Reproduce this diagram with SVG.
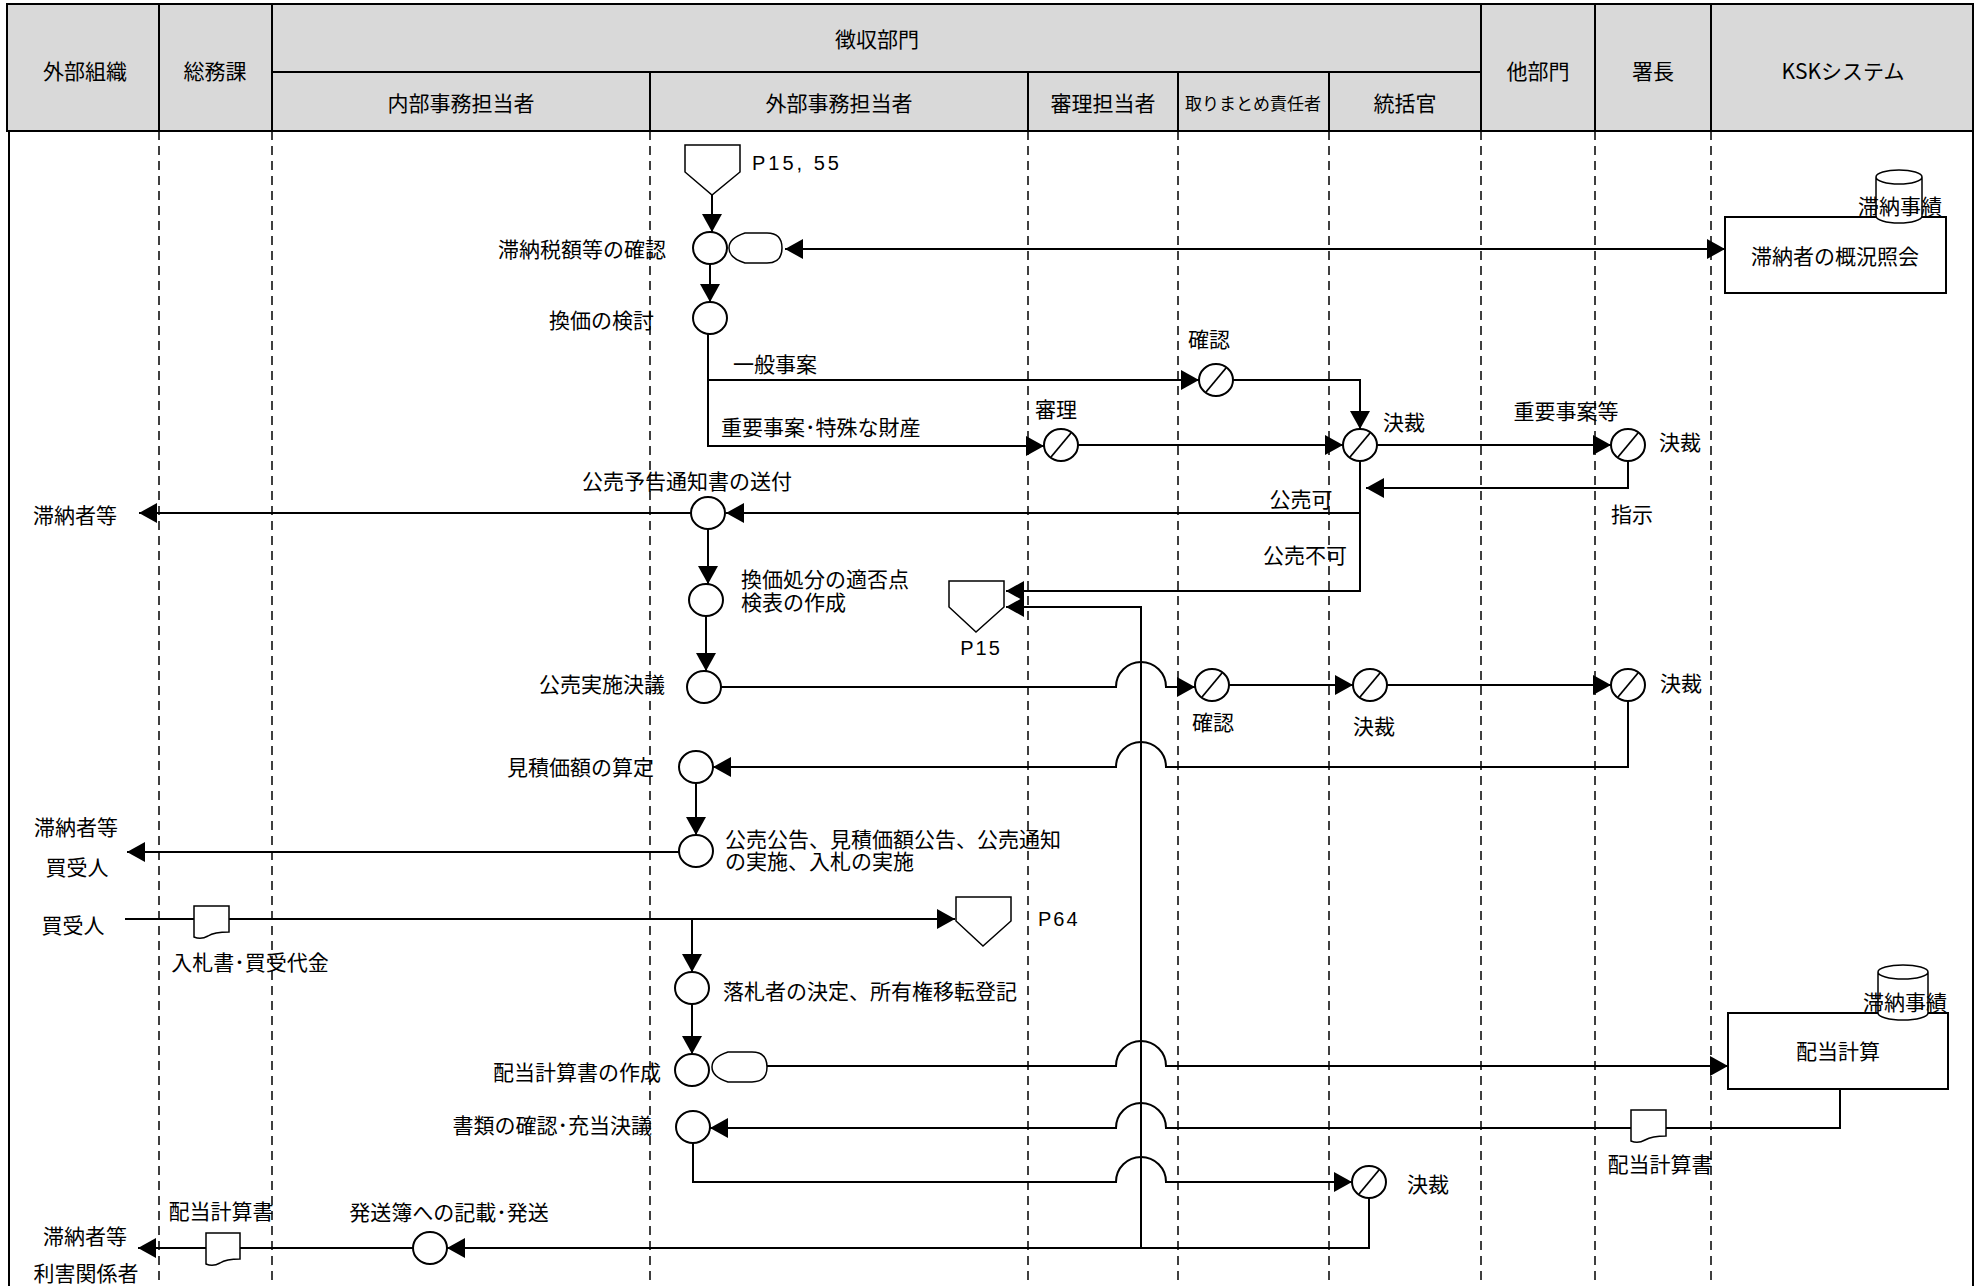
<svg xmlns="http://www.w3.org/2000/svg" width="1982" height="1286" viewBox="0 0 1982 1286">
<style>
.hd{fill:#d9d9d9;stroke:#000;stroke-width:2}
.hl{stroke:#000;stroke-width:2;fill:none}
.lane{stroke:#000;stroke-width:1.5;stroke-dasharray:9 6;fill:none}
.ln{stroke:#000;stroke-width:2;fill:none}
.nd{fill:#fff;stroke:#000;stroke-width:2}
.nt{fill:#fff;stroke:#000;stroke-width:1.5}
.sl{stroke:#000;stroke-width:1.8}
.t{font-family:"Noto Sans CJK JP","Noto Sans CJK SC",sans-serif;font-size:21px;fill:#000}
.s{font-size:17px}
.e{text-anchor:end}
.m{text-anchor:middle}
.p{font-family:"Liberation Sans",Arial,sans-serif;font-size:20px;letter-spacing:2px;fill:#000}
</style>
<defs>
<marker id="ah" markerUnits="userSpaceOnUse" markerWidth="18" markerHeight="20" refX="18" refY="10" orient="auto-start-reverse" viewBox="0 0 18 20">
<path d="M0,0 L18,10 L0,20 Z" fill="#000"/>
</marker>
</defs>
<rect width="1982" height="1286" fill="#fff"/>

<g id="header">
<rect class="hd" x="7" y="4" width="1966" height="127"/>
<line class="hl" x1="159" y1="4" x2="159" y2="131"/>
<line class="hl" x1="272" y1="4" x2="272" y2="131"/>
<line class="hl" x1="1481" y1="4" x2="1481" y2="131"/>
<line class="hl" x1="1595" y1="4" x2="1595" y2="131"/>
<line class="hl" x1="1711" y1="4" x2="1711" y2="131"/>
<line class="hl" x1="272" y1="72" x2="1481" y2="72"/>
<line class="hl" x1="650" y1="72" x2="650" y2="131"/>
<line class="hl" x1="1028" y1="72" x2="1028" y2="131"/>
<line class="hl" x1="1178" y1="72" x2="1178" y2="131"/>
<line class="hl" x1="1329" y1="72" x2="1329" y2="131"/>
<text class="t m" x="85" y="79">外部組織</text>
<text class="t m" x="215" y="79">総務課</text>
<text class="t m" x="877" y="47">徴収部門</text>
<text class="t m" x="461" y="111">内部事務担当者</text>
<text class="t m" x="839" y="111">外部事務担当者</text>
<text class="t m" x="1103" y="111">審理担当者</text>
<text class="t s m" x="1253" y="110">取りまとめ責任者</text>
<text class="t m" x="1405" y="111">統括官</text>
<text class="t m" x="1538" y="79">他部門</text>
<text class="t m" x="1653" y="79">署長</text>
<text class="t m" x="1843" y="79">KSKシステム</text>
</g>

<g id="lanes">
<line class="hl" x1="9" y1="131" x2="9" y2="1286"/>
<line class="hl" x1="1973" y1="131" x2="1973" y2="1286"/>
<line class="lane" x1="159" y1="131" x2="159" y2="1286"/>
<line class="lane" x1="272" y1="131" x2="272" y2="1286"/>
<line class="lane" x1="650" y1="131" x2="650" y2="1286"/>
<line class="lane" x1="1028" y1="131" x2="1028" y2="1286"/>
<line class="lane" x1="1178" y1="131" x2="1178" y2="1286"/>
<line class="lane" x1="1329" y1="131" x2="1329" y2="1286"/>
<line class="lane" x1="1481" y1="131" x2="1481" y2="1286"/>
<line class="lane" x1="1595" y1="131" x2="1595" y2="1286"/>
<line class="lane" x1="1711" y1="131" x2="1711" y2="1286"/>
</g>

<g id="connectors">
<path class="ln" d="M712,195 V232" marker-end="url(#ah)"/>
<path class="ln" d="M710,264 V302" marker-end="url(#ah)"/>
<path class="ln" d="M785,249 H1725" marker-start="url(#ah)" marker-end="url(#ah)"/>
<path class="ln" d="M708,334 V446 H1044" marker-end="url(#ah)"/>
<path class="ln" d="M708,380 H1199" marker-end="url(#ah)"/>
<path class="ln" d="M1233,380 H1360 V429" marker-end="url(#ah)"/>
<path class="ln" d="M1078,445 H1343" marker-end="url(#ah)"/>
<path class="ln" d="M1377,445 H1611" marker-end="url(#ah)"/>
<path class="ln" d="M1628,461 V488 H1366" marker-end="url(#ah)"/>
<path class="ln" d="M1360,461 V591 H1006" marker-end="url(#ah)"/>
<path class="ln" d="M1360,513 H726" marker-end="url(#ah)"/>
<path class="ln" d="M1141,1248 V607 H1006" marker-end="url(#ah)"/>
<path class="ln" d="M691,513 H139" marker-end="url(#ah)"/>
<path class="ln" d="M708,529 V584" marker-end="url(#ah)"/>
<path class="ln" d="M706,616 V671" marker-end="url(#ah)"/>
<path class="ln" d="M721,687 H1116 A25,25 0 0 1 1166,687 H1195" marker-end="url(#ah)"/>
<path class="ln" d="M1229,685 H1353" marker-end="url(#ah)"/>
<path class="ln" d="M1387,685 H1611" marker-end="url(#ah)"/>
<path class="ln" d="M1628,701 V767 H1166 A25,25 0 0 0 1116,767 H713" marker-end="url(#ah)"/>
<path class="ln" d="M696,783 V835" marker-end="url(#ah)"/>
<path class="ln" d="M679,852 H127" marker-end="url(#ah)"/>
<path class="ln" d="M125,919 H955" marker-end="url(#ah)"/>
<path class="ln" d="M692,919 V972" marker-end="url(#ah)"/>
<path class="ln" d="M692,1004 V1054" marker-end="url(#ah)"/>
<path class="ln" d="M767,1066 H1116 A25,25 0 0 1 1166,1066 H1728" marker-end="url(#ah)"/>
<path class="ln" d="M1840,1089 V1128 H1166 A25,25 0 0 0 1116,1128 H710" marker-end="url(#ah)"/>
<path class="ln" d="M693,1143 V1182 H1116 A25,25 0 0 1 1166,1182 H1352" marker-end="url(#ah)"/>
<path class="ln" d="M1369,1198 V1248 H447" marker-end="url(#ah)"/>
<path class="ln" d="M413,1248 H138" marker-end="url(#ah)"/>
</g>

<g id="n-p1555"><path class="nt" d="M685,145 H740 V172 L712,195 L685,172 Z"/><text class="p" x="752" y="170" style="letter-spacing:3px">P15, 55</text></g>
<g id="n-p15"><path class="nt" d="M949,581 H1004 V607 L976,632 L949,607 Z"/><text class="p m" x="981" y="655">P15</text></g>
<g id="n-p64"><path class="nt" d="M956,897 H1011 V921 L983,946 L956,921 Z"/><text class="p" x="1038" y="926">P64</text></g>

<g id="n-tainou"><ellipse class="nd" cx="710" cy="248" rx="17" ry="16"/><text class="t e" x="666" y="257">滞納税額等の確認</text></g>
<g id="n-disp1"><path class="nt" d="M745,233 H767 Q782,233 782,248 Q782,263 767,263 H745 Q729,258 729,248 Q729,238 745,233 Z"/></g>
<g id="n-kenka"><ellipse class="nd" cx="710" cy="318" rx="17" ry="16"/><text class="t e" x="654" y="328">換価の検討</text></g>
<g id="n-yokoku"><ellipse class="nd" cx="708" cy="513" rx="17" ry="16"/><text class="t m" x="687" y="489">公売予告通知書の送付</text></g>
<g id="n-tenken"><ellipse class="nd" cx="706" cy="600" rx="17" ry="16"/><text class="t" x="741" y="587">換価処分の適否点<tspan x="741" dy="23">検表の作成</tspan></text></g>
<g id="n-jisshi"><ellipse class="nd" cx="704" cy="687" rx="17" ry="16"/><text class="t e" x="665" y="692">公売実施決議</text></g>
<g id="n-mitsumori"><ellipse class="nd" cx="696" cy="767" rx="17" ry="16"/><text class="t e" x="654" y="775">見積価額の算定</text></g>
<g id="n-koukoku"><ellipse class="nd" cx="696" cy="851" rx="17" ry="16"/><text class="t" x="725" y="847">公売公告、見積価額公告、公売通知<tspan x="725" dy="22">の実施、入札の実施</tspan></text></g>
<g id="n-rakusatsu"><ellipse class="nd" cx="692" cy="988" rx="17" ry="16"/><text class="t" x="723" y="999">落札者の決定、所有権移転登記</text></g>
<g id="n-haitou"><ellipse class="nd" cx="692" cy="1070" rx="17" ry="16"/><text class="t e" x="661" y="1080">配当計算書の作成</text></g>
<g id="n-disp2"><path class="nt" d="M728,1052 H752 Q767,1052 767,1067 Q767,1082 752,1082 H728 Q712,1077 712,1067 Q712,1057 728,1052 Z"/></g>
<g id="n-shorui"><ellipse class="nd" cx="693" cy="1127" rx="17" ry="16"/><text class="t e" x="652" y="1133">書類の確認･充当決議</text></g>
<g id="n-hassou"><ellipse class="nd" cx="430" cy="1248" rx="17" ry="16"/><text class="t m" x="449" y="1220">発送簿への記載･発送</text></g>

<g id="n-kakunin1"><ellipse class="nd" cx="1216" cy="380" rx="17" ry="16"/><line class="sl" x1="1206" y1="392" x2="1226" y2="368"/><text class="t m" x="1209" y="347">確認</text></g>
<g id="n-shinri"><ellipse class="nd" cx="1061" cy="445" rx="17" ry="16"/><line class="sl" x1="1051" y1="457" x2="1071" y2="433"/><text class="t m" x="1056" y="417">審理</text></g>
<g id="n-kessai1"><ellipse class="nd" cx="1360" cy="445" rx="17" ry="16"/><line class="sl" x1="1350" y1="457" x2="1370" y2="433"/><text class="t m" x="1404" y="430">決裁</text></g>
<g id="n-kessai2"><ellipse class="nd" cx="1628" cy="445" rx="17" ry="16"/><line class="sl" x1="1618" y1="457" x2="1638" y2="433"/><text class="t m" x="1680" y="450">決裁</text></g>
<g id="n-kakunin2"><ellipse class="nd" cx="1212" cy="685" rx="17" ry="16"/><line class="sl" x1="1202" y1="697" x2="1222" y2="673"/><text class="t m" x="1213" y="730">確認</text></g>
<g id="n-kessai3"><ellipse class="nd" cx="1370" cy="685" rx="17" ry="16"/><line class="sl" x1="1360" y1="697" x2="1380" y2="673"/><text class="t m" x="1374" y="734">決裁</text></g>
<g id="n-kessai4"><ellipse class="nd" cx="1628" cy="685" rx="17" ry="16"/><line class="sl" x1="1618" y1="697" x2="1638" y2="673"/><text class="t m" x="1681" y="691">決裁</text></g>
<g id="n-kessai5"><ellipse class="nd" cx="1369" cy="1182" rx="17" ry="16"/><line class="sl" x1="1359" y1="1194" x2="1379" y2="1170"/><text class="t m" x="1428" y="1192">決裁</text></g>

<g id="n-doc1"><path class="nt" d="M194,906 H229 V932 Q214,932 208,936 Q201,940 194,937 Z"/><text class="t m" x="250" y="970">入札書･買受代金</text></g>
<g id="n-doc2"><path class="nt" d="M206,1233 H240 V1259 Q226,1259 220,1263 Q213,1267 206,1264 Z"/><text class="t m" x="221" y="1219">配当計算書</text></g>
<g id="n-doc3"><path class="nt" d="M1631,1110 H1666 V1136 Q1652,1136 1645,1140 Q1638,1144 1631,1141 Z"/><text class="t m" x="1660" y="1172">配当計算書</text></g>

<g id="n-ksk1"><rect class="nd" x="1725" y="217" width="221" height="76"/><text class="t m" x="1835" y="264">滞納者の概況照会</text>
<path class="nt" d="M1876,177 V216 A23,7 0 0 0 1922,216 V177 A23,7 0 0 0 1876,177 A23,7 0 0 0 1922,177"/><text class="t m" x="1900" y="214">滞納事績</text></g>
<g id="n-ksk2"><rect class="nd" x="1728" y="1013" width="220" height="76"/><text class="t m" x="1838" y="1059">配当計算</text>
<path class="nt" d="M1878,972 V1013 A25,7 0 0 0 1928,1013 V972 A25,7 0 0 0 1878,972 A25,7 0 0 0 1928,972"/><text class="t m" x="1905" y="1010">滞納事績</text></g>

<g id="ext">
<text class="t m" x="75" y="523">滞納者等</text>
<text class="t m" x="76" y="835">滞納者等</text>
<text class="t m" x="77" y="875">買受人</text>
<text class="t m" x="73" y="933">買受人</text>
<text class="t m" x="85" y="1244">滞納者等</text>
<text class="t m" x="86" y="1281">利害関係者</text>
</g>

<g id="labels">
<text class="t" x="733" y="372">一般事案</text>
<text class="t" x="721" y="435">重要事案･特殊な財産</text>
<text class="t m" x="1566" y="419">重要事案等</text>
<text class="t m" x="1632" y="522">指示</text>
<text class="t m" x="1301" y="507">公売可</text>
<text class="t m" x="1305" y="563">公売不可</text>
</g>
</svg>
